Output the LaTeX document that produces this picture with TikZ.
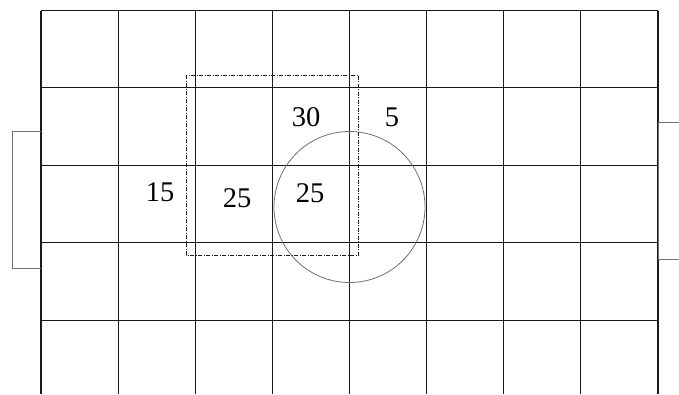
\documentclass[tikz,border=0pt]{standalone}
\usepackage{fontspec}
\setmainfont{Liberation Serif}
\usetikzlibrary{positioning}
\definecolor{pitchline}{HTML}{1A1A1A}
\definecolor{goalline}{HTML}{707070}

\begin{document}
\begin{tikzpicture}[x=1pt, y=-1pt,
  cellline/.style={draw=pitchline, line width=1.1pt},
  goalbox/.style={draw=goalline, line width=0.9pt},
  zonebox/.style={draw=pitchline, line width=0.8pt, dash pattern=on 4pt off 1.5pt on 1pt off 1.5pt},
  ring/.style={draw=goalline, line width=0.8pt},
  count/.style={font=\fontsize{28.5}{28.5}\selectfont, inner sep=0pt}]
  \useasboundingbox (0,0) rectangle (679,394);

  % pitch grid
  \foreach \i in {0,...,8}
    \draw[cellline] ({41+77.125*\i},10.5) -- ({41+77.125*\i},394);
  \foreach \j in {0,...,4}
    \draw[cellline] (41,{10.5+77.4*\j}) -- (658,{10.5+77.4*\j});

  % goals
  \draw[goalbox] (41,131) -- (12,131) -- (12,268) -- (41,268);
  \draw[goalbox] (679,122) -- (658,122) -- (658,259) -- (679,259);

  % zone and circle
  \draw[zonebox] (186,75) rectangle (358.5,255);
  \draw[ring] (349.5,207) circle (75.5);

  % numbers
  \node[count] (n30) at (306,117) {30};
  \node[count] (n5) at (392,117) {5};
  \node[count] (n15) at (160,192.5) {15};
  \node[count] (n25a) at (237,198) {25};
  \node[count] (n25b) at (310,193) {25};
\end{tikzpicture}
\end{document}
